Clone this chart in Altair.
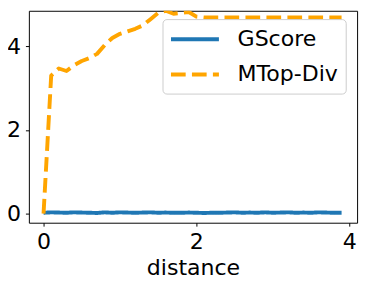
import altair as alt
import pandas as pd

distance = [0.0, 0.1, 0.2, 0.3, 0.4, 0.5, 0.6, 0.7, 0.8, 0.9,
            1.0, 1.1, 1.2, 1.3, 1.4, 1.5, 1.6, 1.7, 1.8, 1.9,
            2.0, 2.1, 2.2, 2.3, 2.4, 2.5, 2.6, 2.7, 2.8, 2.9,
            3.0, 3.1, 3.2, 3.3, 3.4, 3.5, 3.6, 3.7, 3.8, 3.9]

gscore = [0.02, 0.03, 0.025, 0.02, 0.03, 0.025, 0.02, 0.015, 0.03, 0.02,
          0.03, 0.025, 0.02, 0.025, 0.03, 0.02, 0.025, 0.02, 0.02, 0.025,
          0.02, 0.015, 0.02, 0.02, 0.025, 0.03, 0.02, 0.025, 0.02, 0.03,
          0.02, 0.025, 0.03, 0.02, 0.025, 0.02, 0.03, 0.025, 0.02, 0.02]

mtopdiv = [0.0, 3.3, 3.47, 3.41, 3.55, 3.65, 3.72, 3.82, 4.03, 4.2,
           4.3, 4.36, 4.42, 4.5, 4.65, 4.8, 4.85, 4.78, 4.8, 4.82,
           4.71, 4.69, 4.69, 4.69, 4.69, 4.69, 4.69, 4.69, 4.69, 4.69,
           4.69, 4.69, 4.69, 4.69, 4.69, 4.69, 4.69, 4.69, 4.69, 4.69]

series_names = ["GScore", "MTop-Div"]
series_colors = ["#1f77b4", "#ffa500"]
x_ticks = [0, 2, 4]
y_ticks = [0, 2, 4]

rows = []
for name, vals in zip(series_names, [gscore, mtopdiv]):
    for d, v in zip(distance, vals):
        rows.append({"distance": d, "value": v, "series": name})
df = pd.DataFrame(rows)

FONT = "DejaVu Sans"
FS = 22.5

legend = alt.Legend(
    title=None, orient="none", legendX=136.4, legendY=8.5,
    fillColor="white", strokeColor="#cccccc", cornerRadius=4, padding=8,
    labelFont=FONT, labelFontSize=FS, labelColor="black",
    symbolType="M-2.33,0L2.33,0", symbolSize=441, symbolStrokeWidth=4,
    symbolFillColor="transparent", symbolOffset=12.6, labelOffset=31,
    rowPadding=12,
)

chart = alt.Chart(df).mark_line(strokeWidth=4, clip=True, strokeJoin="round").encode(
    x=alt.X("distance:Q",
            scale=alt.Scale(domain=[-0.192, 4.103], nice=False, zero=False),
            axis=alt.Axis(values=x_ticks, title="distance", grid=False, domain=False,
                          tickColor="black", tickSize=3.5, tickWidth=1,
                          labelFont=FONT, labelFontSize=FS, labelColor="black", labelPadding=5,
                          titleFont=FONT, titleFontSize=FS, titleFontWeight="normal",
                          titleColor="black", titlePadding=4)),
    y=alt.Y("value:Q",
            scale=alt.Scale(domain=[-0.218, 4.85], nice=False, zero=False),
            axis=alt.Axis(values=y_ticks, title=None, grid=False, domain=False,
                          tickColor="black", tickSize=3.5, tickWidth=1,
                          labelFont=FONT, labelFontSize=FS, labelColor="black", labelPadding=5)),
    color=alt.Color("series:N",
                    scale=alt.Scale(domain=series_names, range=series_colors),
                    legend=legend),
    strokeDash=alt.StrokeDash("series:N",
                              scale=alt.Scale(domain=series_names, range=[[1, 0], [15, 6.4]]),
                              legend=legend),
).properties(
    width=335, height=216.3, autosize="none",
    padding={"left": 21.3, "top": 0, "right": 5, "bottom": 60},
).configure_view(stroke="black", strokeWidth=1)

chart.save("out.html", embed_options={"renderer": "svg", "actions": False})
